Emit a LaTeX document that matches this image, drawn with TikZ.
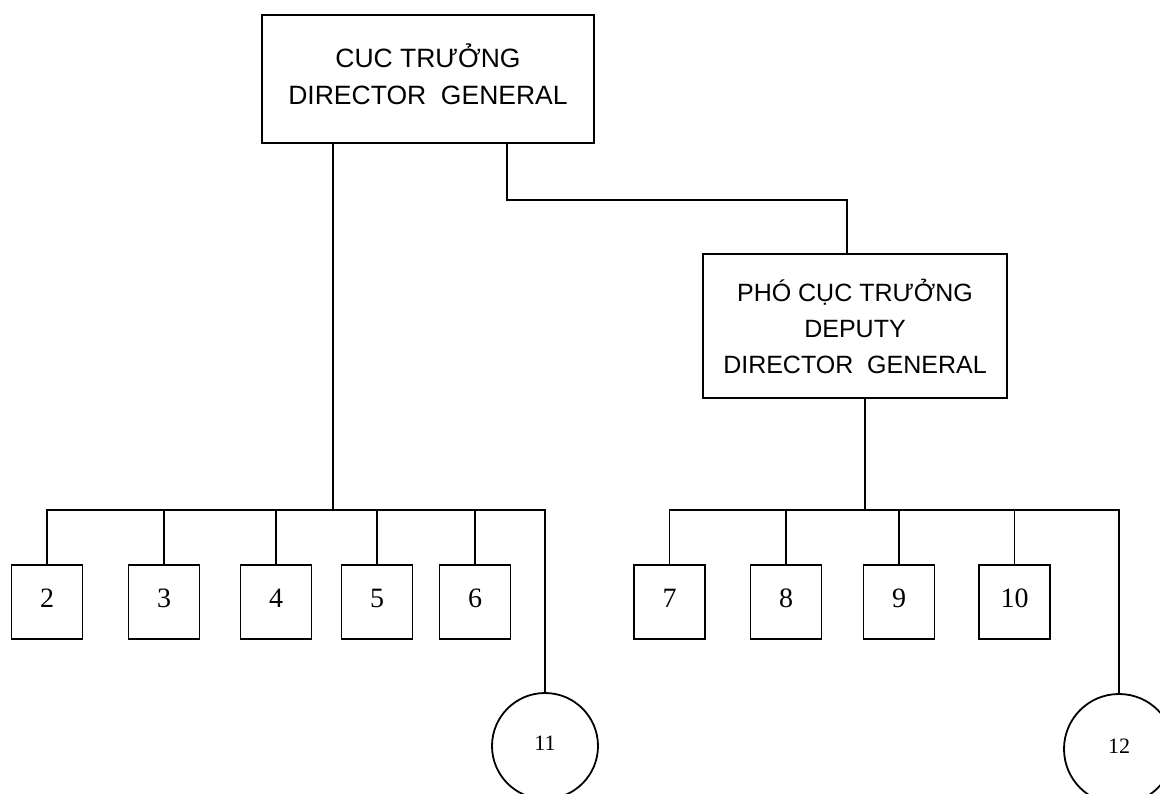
\documentclass[tikz,border=0pt]{standalone}
\usepackage{fontspec}
\setmainfont{Liberation Serif}
\newfontfamily\headfont{Liberation Sans}
\tikzset{
  orgbox/.style={draw,line width=1.8pt,inner sep=0pt},
  headtext/.style={align=center,font=\headfont\fontsize{26.5}{37}\selectfont},
  unitbox/.style={draw,line width=1.8pt,minimum width=71,minimum height=74,inner sep=0pt,
    text height=19pt,text depth=9pt,font=\fontsize{28}{32}\selectfont},
  unitcirc/.style={draw,circle,line width=1.8pt,inner sep=0pt,
    text height=15pt,text depth=6pt,font=\fontsize{22}{26}\selectfont},
  link/.style={line width=1.8pt}
}
\begin{document}
\begin{tikzpicture}[x=1pt,y=-1pt]
  \useasboundingbox (0,0) rectangle (1160,794);
  \clip (0,0) rectangle (1160,794);

  % heads
  \node[orgbox,minimum width=332,minimum height=128] (dg) at (428,79) {};
  \node[headtext] (dgtext) at (428,74) {CUC TRƯỞNG\\DIRECTOR\ \ GENERAL};
  \node[orgbox,minimum width=304,minimum height=144,headtext,
    font=\headfont\fontsize{25}{36}\selectfont] (ddg) at (855,326)
    {PHÓ CỤC TRƯỞNG\\DEPUTY\\DIRECTOR\ \ GENERAL};

  % units
  \foreach \n/\x in {2/47,3/164,4/276,5/377,6/475,7/669.5,8/786,9/899,10/1014.5}
    \node[unitbox] (u\n) at (\x,602) {\n};
  \node[unitcirc,minimum size=106] (u11) at (545,746) {11};
  \node[unitcirc,minimum size=110] (u12) at (1119,749) {12};

  % connectors
  \coordinate (lbus) at (333,510);
  \coordinate (rbus) at (865,510);
  \coordinate (bend) at (507,200);
  \draw[link] (dg.south -| lbus) -- (lbus);
  \draw[link] (dg.south -| bend) -- (bend) -| ([xshift=-8]ddg.north);
  \draw[link] (ddg.south -| rbus) -- (rbus);
  \draw[link] (u2.north) -- (u2.north |- lbus) -- (u11.north |- lbus) -- (u11.north);
  \foreach \n in {3,...,6}
    \draw[link] (u\n.north) -- (u\n.north |- lbus);
  \draw[link] (u7.north) -- (u7.north |- rbus) -- (u12.north |- rbus) -- (u12.north);
  \foreach \n in {8,9,10}
    \draw[link] (u\n.north) -- (u\n.north |- rbus);
\end{tikzpicture}
\end{document}
